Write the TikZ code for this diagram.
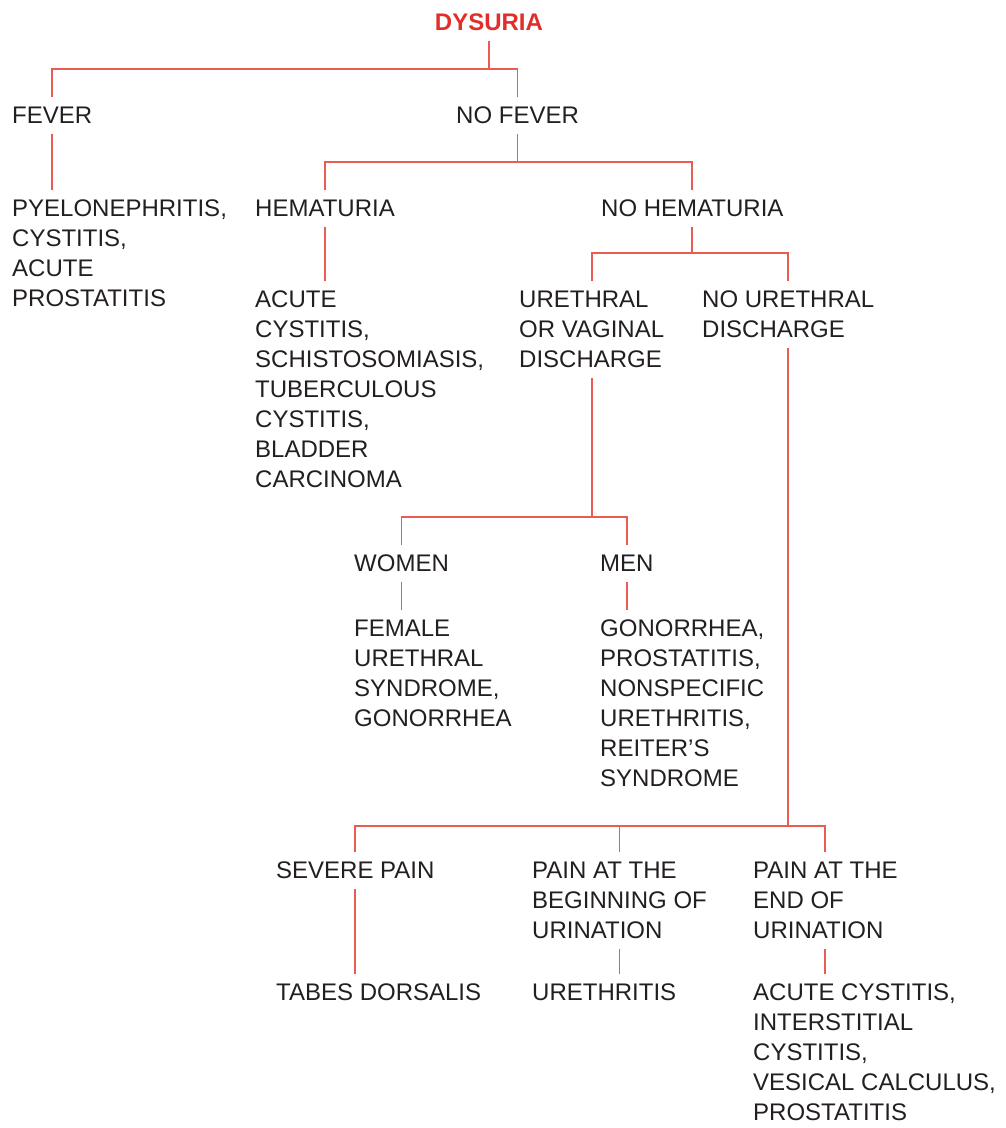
\documentclass[tikz,border=0pt]{standalone}
\usepackage{fontspec}
\setmainfont{Liberation Sans}

\definecolor{linered}{RGB}{234,92,82}
\definecolor{headred}{RGB}{226,46,40}
\definecolor{ink}{RGB}{35,31,32}

\tikzset{
	txt/.style={anchor=north west, align=left, inner xsep=0pt, inner ysep=10pt, text=ink, font=\fontsize{24}{30}\selectfont},
	link/.style={linered, line width=1.9pt},
}

\begin{document}
\begin{tikzpicture}[x=1pt, y=-1pt]

	\useasboundingbox (0,0) rectangle (1005,1128);

	\node[txt, anchor=north, text=headred, font=\fontsize{24}{30}\selectfont\bfseries] (dys) at (489,4) {DYSURIA};

	% fever or not
	\node[txt] (fev) at (12,97) {FEVER};
	\node[txt] (nofev) at (456,97) {NO FEVER};
	\node[txt] (pyelo) at (12,190) {PYELONEPHRITIS,\\CYSTITIS,\\ACUTE\\PROSTATITIS};

	% hematuria
	\node[txt] (hem) at (255,190) {HEMATURIA};
	\node[txt] (nohem) at (601,190) {NO HEMATURIA};
	\node[txt] (hemdx) at (255,281) {ACUTE\\CYSTITIS,\\SCHISTOSOMIASIS,\\TUBERCULOUS\\CYSTITIS,\\BLADDER\\CARCINOMA};

	% discharge
	\node[txt] (disch) at (519,281) {URETHRAL\\OR VAGINAL\\DISCHARGE};
	\node[txt] (nodisch) at (702,281) {NO URETHRAL\\DISCHARGE};

	\node[txt] (women) at (354,545) {WOMEN};
	\node[txt] (men) at (600,545) {MEN};
	\node[txt] (womendx) at (354,610) {FEMALE\\URETHRAL\\SYNDROME,\\GONORRHEA};
	\node[txt] (mendx) at (600,610) {GONORRHEA,\\PROSTATITIS,\\NONSPECIFIC\\URETHRITIS,\\REITER'S\\SYNDROME};

	% pain
	\node[txt] (severe) at (276,852) {SEVERE PAIN};
	\node[txt] (begin) at (532,852) {PAIN AT THE\\BEGINNING OF\\URINATION};
	\node[txt] (endp) at (753,852) {PAIN AT THE\\END OF\\URINATION};
	\node[txt] (tabes) at (276,974) {TABES DORSALIS};
	\node[txt] (ureth) at (532,974) {URETHRITIS};
	\node[txt] (enddx) at (753,974) {ACUTE CYSTITIS,\\INTERSTITIAL\\CYSTITIS,\\VESICAL CALCULUS,\\PROSTATITIS};

	\draw[link] (fev.north) -- ++(0,-28) -| (dys.south);
	\draw[link] (nofev.north) -- ++(0,-28) -| (dys.south);
	\draw[link] (fev.south) -- (fev.south |- pyelo.north);

	\draw[link] (hem.north) -- ++(0,-28) -| (nofev.south);
	\draw[link] (nohem.north) -- ++(0,-28) -| (nofev.south);
	\draw[link] (hem.south) -- (hem.south |- hemdx.north);

	\draw[link] (disch.north) -- ++(0,-28) -| (nohem.south);
	\draw[link] (nodisch.north) -- ++(0,-28) -| (nohem.south);

	\draw[link] (women.north) -- ++(0,-28) -| (disch.south);
	\draw[link] (men.north) -- ++(0,-28) -| (disch.south);
	\draw[link] (women.south) -- (women.south |- womendx.north);
	\draw[link] (men.south) -- (men.south |- mendx.north);

	\draw[link] (severe.north) -- ++(0,-26) -| (nodisch.south);
	\draw[link] (begin.north) -- ++(0,-26) -| (nodisch.south);
	\draw[link] (endp.north) -- ++(0,-26) -| (nodisch.south);
	\draw[link] (severe.south) -- (severe.south |- tabes.north);
	\draw[link] (begin.south) -- (begin.south |- ureth.north);
	\draw[link] (endp.south) -- (endp.south |- enddx.north);

\end{tikzpicture}
\end{document}
